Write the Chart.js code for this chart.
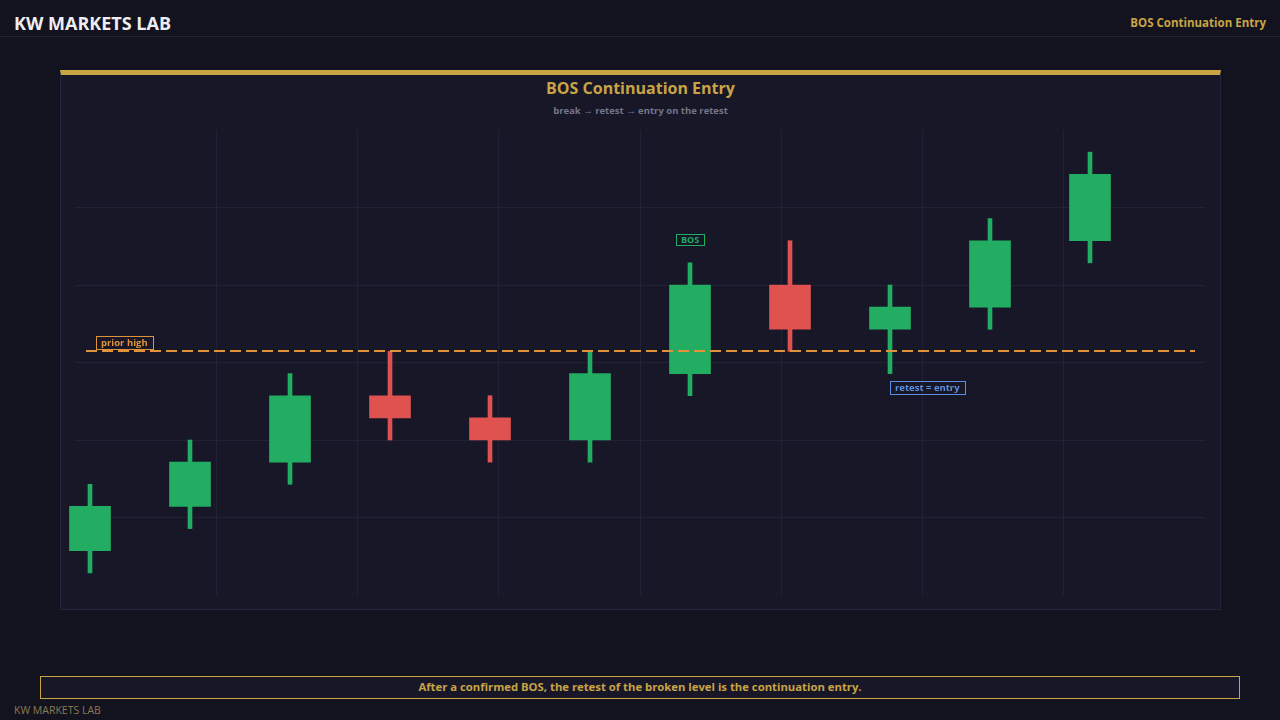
<!DOCTYPE html>
<html lang="en">
<head>
    <meta charset="UTF-8">
    <title>BOS Continuation Entry</title>
    <script src="https://cdn.jsdelivr.net/npm/chart.js"></script>
    <style>
        html, body { margin: 0; padding: 0; }
        body {
            width: 1280px; height: 720px; overflow: hidden; position: relative;
            background: #131320; font-family: "Open Sans", "Noto Sans", sans-serif;
        }
        .topbar {
            position: absolute; left: 0; top: 0; width: 1280px; height: 36px;
            border-bottom: 1px solid #23233a;
        }
        .brand { position: absolute; left: 14px; top: 10px; font-size: 18px; font-weight: 700; color: #eeeef2; line-height: 26px; }
        .topic { position: absolute; right: 14px; top: 13px; font-size: 11.5px; font-weight: 700; color: #c9a445; line-height: 20px; }
        .panel {
            position: absolute; left: 60px; top: 70px; width: 1159px; height: 534px;
            background: #171728; border: 1px solid #23233a; border-top: 5px solid #c9a445;
        }
        .panel h1 { margin: 0; position: absolute; left: 0; right: 0; top: 0; text-align: center; font-size: 16px; font-weight: 700; color: #c9a445; line-height: 26px; }
        .panel .sub { position: absolute; left: 0; right: 0; top: 29px; text-align: center; font-size: 9.5px; font-weight: 700; color: #75758a; line-height: 14px; }
        .chart-box { position: absolute; left: 61px; top: 130px; width: 1158px; height: 465px; }
        .note {
            position: absolute; left: 40px; top: 676px; width: 1198px; height: 21px;
            border: 1px solid #c9a445; background: #171728; color: #c9a445;
            font-size: 11.3px; font-weight: 700; text-align: center; line-height: 20px;
        }
        .foot { position: absolute; left: 14px; top: 703px; font-size: 10.5px; color: #8a7a50; line-height: 14px; }
    </style>
</head>
<body>
    <div class="topbar">
        <div class="brand">KW MARKETS LAB</div>
        <div class="topic">BOS Continuation Entry</div>
    </div>
    <div class="panel">
        <h1>BOS Continuation Entry</h1>
        <div class="sub">break → retest → entry on the retest</div>
    </div>
    <div class="chart-box"><canvas id="bos-chart"></canvas></div>
    <div class="note">After a confirmed BOS, the retest of the broken level is the continuation entry.</div>
    <div class="foot">KW MARKETS LAB</div>

    <script>
    // candle data (index, open, high, low, close)
    const candleIdx = [0, 1, 2, 3, 4, 5, 6, 7, 8, 9, 10];
    const opens  = [2, 4, 6, 9, 8, 7, 10, 14, 12, 13, 16];
    const highs  = [5, 7, 10, 11, 9, 11, 15, 16, 14, 17, 20];
    const lows   = [1, 3, 5, 7, 6, 6, 9, 11, 10, 12, 15];
    const closes = [4, 6, 9, 8, 7, 10, 14, 12, 13, 16, 19];

    const priorHigh = 11;
    const bosIdx = 6;
    const retestIdx = 8;

    const xMin = -0.15, xMax = 11.15, xDivs = 8;
    const yMin = 0, yMax = 21, yStep = 3.5;

    const UP = '#22ad63';
    const DOWN = '#e0524f';
    const GRID = '#222236';

    const colors = candleIdx.map((_, i) => closes[i] >= opens[i] ? UP : DOWN);

    const wickData = candleIdx.map((x, i) => ({ x: x, y: [lows[i], highs[i]] }));
    const bodyData = candleIdx.map((x, i) => ({ x: x, y: [opens[i], closes[i]] }));

    function innerGrid(ctx) {
        const n = ctx.scale.ticks.length;
        return (ctx.index === 0 || ctx.index === n - 1) ? 'rgba(0,0,0,0)' : GRID;
    }

    // draws the prior-high level and the text tags
    const marks = {
        id: 'marks',
        afterDatasetsDraw(chart) {
            const { ctx, chartArea, scales: { x, y } } = chart;
            const ly = Math.round(y.getPixelForValue(priorHigh));
            ctx.save();
            ctx.strokeStyle = '#e0933a';
            ctx.lineWidth = 2;
            ctx.setLineDash([11, 5]);
            ctx.beginPath();
            ctx.moveTo(chartArea.left + 11, ly);
            ctx.lineTo(chartArea.right - 10, ly);
            ctx.stroke();
            ctx.setLineDash([]);

            function tag(text, color, left, top, h, font) {
                ctx.font = font;
                const w = ctx.measureText(text).width + 10;
                ctx.strokeStyle = color;
                ctx.lineWidth = 1;
                ctx.strokeRect(Math.round(left) + 0.5, Math.round(top) + 0.5, Math.round(w), h);
                ctx.fillStyle = color;
                ctx.textBaseline = 'middle';
                ctx.textAlign = 'left';
                ctx.fillText(text, Math.round(left) + 5, Math.round(top) + h / 2 + 1);
                return w;
            }

            tag('prior high', '#e0933a', chartArea.left + 21, ly - 15, 13, '700 9.5px "Open Sans", sans-serif');

            const bosFont = '700 9px "Open Sans", sans-serif';
            ctx.font = bosFont;
            const bw = ctx.measureText('BOS').width + 10;
            const bx = x.getPixelForValue(bosIdx);
            tag('BOS', UP, bx - bw / 2, y.getPixelForValue(highs[bosIdx]) - 29, 11, bosFont);

            const rx = x.getPixelForValue(retestIdx);
            tag('retest = entry', '#5b8fe0', rx, y.getPixelForValue(lows[retestIdx]) + 7, 13, '700 9.5px "Open Sans", sans-serif');
            ctx.restore();
        }
    };

    new Chart(document.getElementById('bos-chart').getContext('2d'), {
        type: 'bar',
        data: {
            datasets: [
                { label: 'wick', data: wickData, backgroundColor: colors, barThickness: 4, grouped: false, clip: false },
                { label: 'body', data: bodyData, backgroundColor: colors, barThickness: 41, grouped: false, clip: false }
            ]
        },
        options: {
            responsive: true,
            maintainAspectRatio: false,
            animation: false,
            layout: { padding: { left: 14, right: 14, top: 0, bottom: 0 } },
            plugins: { legend: { display: false }, tooltip: { enabled: false }, title: { display: false } },
            scales: {
                x: {
                    type: 'linear', min: xMin, max: xMax, offset: false,
                    ticks: { display: false },
                    afterBuildTicks(scale) {
                        const step = (xMax - xMin) / xDivs;
                        scale.ticks = Array.from({ length: xDivs + 1 }, (_, k) => ({ value: xMin + k * step }));
                    },
                    grid: { color: innerGrid, drawTicks: false, offset: false },
                    border: { display: false }
                },
                y: {
                    min: yMin, max: yMax,
                    ticks: { display: false, stepSize: yStep },
                    grid: { color: innerGrid, drawTicks: false },
                    border: { display: false }
                }
            }
        },
        plugins: [marks]
    });
    </script>
</body>
</html>
